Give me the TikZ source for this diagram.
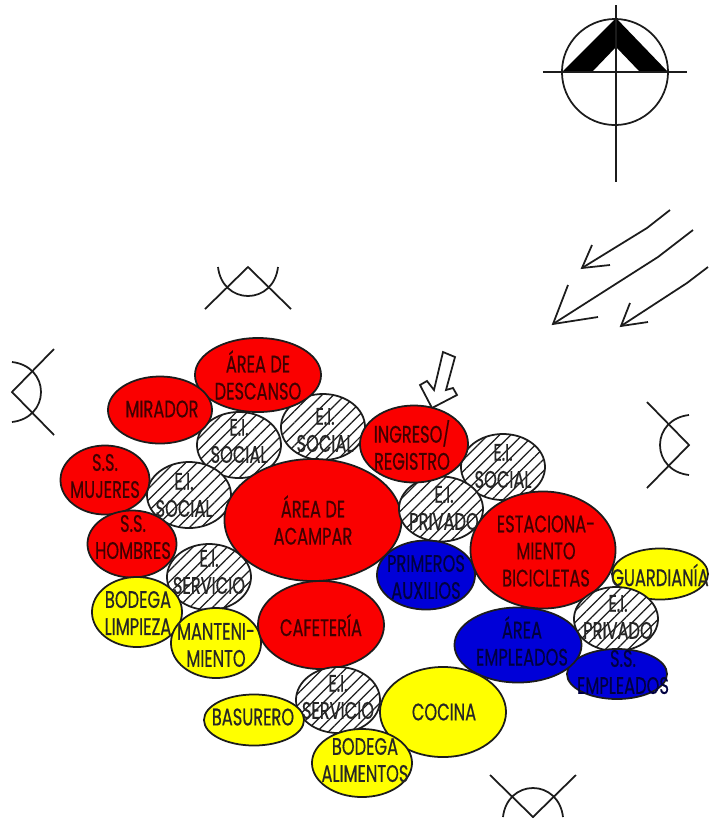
\documentclass[tikz,border=0pt]{standalone}
\usepackage{fontspec}
\setmainfont[FakeStretch=0.68,FakeBold=0.5]{Poppins}
\usetikzlibrary{shapes.geometric,patterns.meta}
\definecolor{zonered}{HTML}{FA0000}
\definecolor{zoneblue}{HTML}{0000D8}
\definecolor{zoneyellow}{HTML}{FFFF00}
\definecolor{linegrey}{HTML}{1C1C1C}

\begin{document}
\begin{tikzpicture}[
    x=0.01cm, y=-0.01cm,
    zone/.style={ellipse, draw=linegrey, line width=0.5pt, inner sep=0pt},
    redzone/.style={zone, fill=zonered},
    bluezone/.style={zone, fill=zoneblue},
    yellowzone/.style={zone, fill=zoneyellow},
    hatchzone/.style={zone, fill=white, postaction={pattern={Lines[angle=45,distance=2.3pt,line width=0.35pt]}, pattern color=linegrey}},
    lbl/.style={inner sep=0pt, align=center, font=\fontsize{6.8pt}{7.7pt}\selectfont},
    redlbl/.style={lbl, text=red!25!black},
    bluelbl/.style={lbl, text=blue!25!black},
    yellowlbl/.style={lbl, text=black!85},
    hatchlbl/.style={lbl, text=black!85},
    sketch/.style={draw=linegrey, line width=0.5pt},
  ]
  \useasboundingbox (0,0) rectangle (708,820);

  % North mark
  \fill[black] (562,72) -- (616,18) -- (668,72) -- (640,72) -- (616,47) -- (592,72) -- cycle;
  \node[circle, sketch, minimum size=1.06cm, inner sep=0pt] (northring) at (615,72) {};
  \draw[sketch] (543,72) -- (687,72);
  \draw[sketch] (616,5) -- (616,182);

  % Wind
  \draw[sketch] (670,210) -- (647,228) -- (582,268);
  \draw[sketch] (592,245) -- (582,268) -- (610,265);
  \draw[sketch] (693,230) -- (658,257) -- (553,324);
  \draw[sketch] (568,285) -- (553,324) -- (598,317);
  \draw[sketch] (708,267) -- (687,283) -- (621,326);
  \draw[sketch] (630,303) -- (621,326) -- (648,322);

  % Views
  \foreach \vx/\vy/\vrot in {248/267/0, 12/392/90, 689/445/-90, 533/817/180} {
    \begin{scope}[shift={(\vx,\vy)}, rotate=\vrot]
      \draw[sketch] (-43,42) -- (0,0) -- (43,42);
      \draw[sketch] (-30,0) .. controls (-28,18) and (-15,29) .. (0,29)
                    .. controls (15,29) and (28,18) .. (30,0);
    \end{scope}
  }

  % Entry
  \draw[sketch, fill=white] (432,408) -- (420,385) -- (427,381) -- (434,390) -- (443,352)
        -- (455,357) -- (446,390) -- (453,388) -- (457,395) -- cycle;

  % Zones
  \node[hatchzone, minimum width=0.84cm, minimum height=0.66cm] (socialb) at (323,427) {};
  \node[hatchzone, minimum width=0.84cm, minimum height=0.66cm] (sociala) at (239,445) {};
  \node[redzone, minimum width=1.26cm, minimum height=0.74cm] (descanso) at (258,375) {};
  \node[redzone, minimum width=1.04cm, minimum height=0.67cm] (mirador) at (160,410) {};
  \node[hatchzone, minimum width=0.84cm, minimum height=0.66cm] (socialc) at (189,495) {};
  \node[redzone, minimum width=0.89cm, minimum height=0.69cm] (mujeres) at (105,480) {};
  \node[hatchzone, minimum width=0.84cm, minimum height=0.66cm] (servicioa) at (209,577) {};
  \node[redzone, minimum width=0.89cm, minimum height=0.67cm] (hombres) at (132,544) {};
  \node[redzone, minimum width=1.77cm, minimum height=1.22cm] (acampar) at (313,520) {};
  \node[hatchzone, minimum width=0.84cm, minimum height=0.66cm] (sociald) at (503,467) {};
  \node[hatchzone, minimum width=0.84cm, minimum height=0.65cm] (privadoa) at (441,509) {};
  \node[redzone, minimum width=1.08cm, minimum height=0.77cm] (ingreso) at (414,444) {};
  \node[bluezone, minimum width=0.98cm, minimum height=0.69cm] (auxilios) at (426,575) {};
  \node[yellowzone, minimum width=0.96cm, minimum height=0.51cm] (guardiania) at (660,574) {};
  \node[redzone, minimum width=1.45cm, minimum height=1.17cm] (bicicletas) at (543,550) {};
  \node[yellowzone, minimum width=0.90cm, minimum height=0.70cm] (limpieza) at (137,612) {};
  \node[yellowzone, minimum width=0.90cm, minimum height=0.70cm] (mantenimiento) at (216,643) {};
  \node[redzone, minimum width=1.26cm, minimum height=0.88cm] (cafeteria) at (321,625) {};
  \node[hatchzone, minimum width=0.84cm, minimum height=0.64cm] (privadob) at (616,619) {};
  \node[bluezone, minimum width=1.00cm, minimum height=0.50cm] (ssempleados) at (617,674) {};
  \node[bluezone, minimum width=1.27cm, minimum height=0.75cm] (empleados) at (518,645) {};
  \node[hatchzone, minimum width=0.84cm, minimum height=0.66cm] (serviciob) at (338,700) {};
  \node[yellowzone, minimum width=1.26cm, minimum height=0.90cm] (cocina) at (443,712) {};
  \node[yellowzone, minimum width=1.00cm, minimum height=0.51cm] (basurero) at (254,720) {};
  \node[yellowzone, minimum width=1.00cm, minimum height=0.68cm] (alimentos) at (362,763) {};

  % Labels
  \node[hatchlbl] (socialbtxt) at (325,430) {E.I.\\SOCIAL};
  \node[hatchlbl] (socialatxt) at (239,441) {E.I.\\SOCIAL};
  \node[redlbl] (descansotxt) at (258,375) {ÁREA DE\\DESCANSO};
  \node[redlbl] (miradortxt) at (162,409) {MIRADOR};
  \node[hatchlbl] (socialctxt) at (184,495) {E.I.\\SOCIAL};
  \node[redlbl] (mujerestxt) at (105,476) {S.S.\\MUJERES};
  \node[hatchlbl] (servicioatxt) at (209,572) {E.I.\\SERVICIO};
  \node[redlbl] (hombrestxt) at (133,537) {S.S.\\HOMBRES};
  \node[redlbl] (acampartxt) at (313,520) {ÁREA DE\\ACAMPAR};
  \node[hatchlbl] (socialdtxt) at (503,466) {E.I.\\SOCIAL};
  \node[hatchlbl] (privadoatxt) at (444,508) {E.I.\\PRIVADO};
  \node[redlbl] (ingresotxt) at (412,445) {INGRESO/\\REGISTRO};
  \node[bluelbl] (auxiliostxt) at (426,577) {PRIMEROS\\AUXILIOS};
  \node[yellowlbl] (guardianiatxt) at (660,575) {GUARDIANÍA};
  \node[redlbl] (bicicletastxt) at (546,551) {ESTACIONA-\\MIENTO\\BICICLETAS};
  \node[yellowlbl] (limpiezatxt) at (138,613) {BODEGA\\LIMPIEZA};
  \node[yellowlbl] (mantenimientotxt) at (216,645) {MANTENI-\\MIENTO};
  \node[redlbl] (cafeteriatxt) at (321,625) {CAFETERÍA};
  \node[hatchlbl] (privadobtxt) at (618,617) {E.I.\\PRIVADO};
  \node[bluelbl] (ssempleadostxt) at (623,672) {S.S.\\EMPLEADOS};
  \node[bluelbl] (empleadostxt) at (522,641) {ÁREA\\EMPLEADOS};
  \node[hatchlbl] (serviciobtxt) at (338,697) {E.I.\\SERVICIO};
  \node[yellowlbl] (cocinatxt) at (444,712) {COCINA};
  \node[yellowlbl] (basurerotxt) at (253,717) {BASURERO};
  \node[yellowlbl] (alimentostxt) at (365,760) {BODEGA\\ALIMENTOS};
\end{tikzpicture}
\end{document}
